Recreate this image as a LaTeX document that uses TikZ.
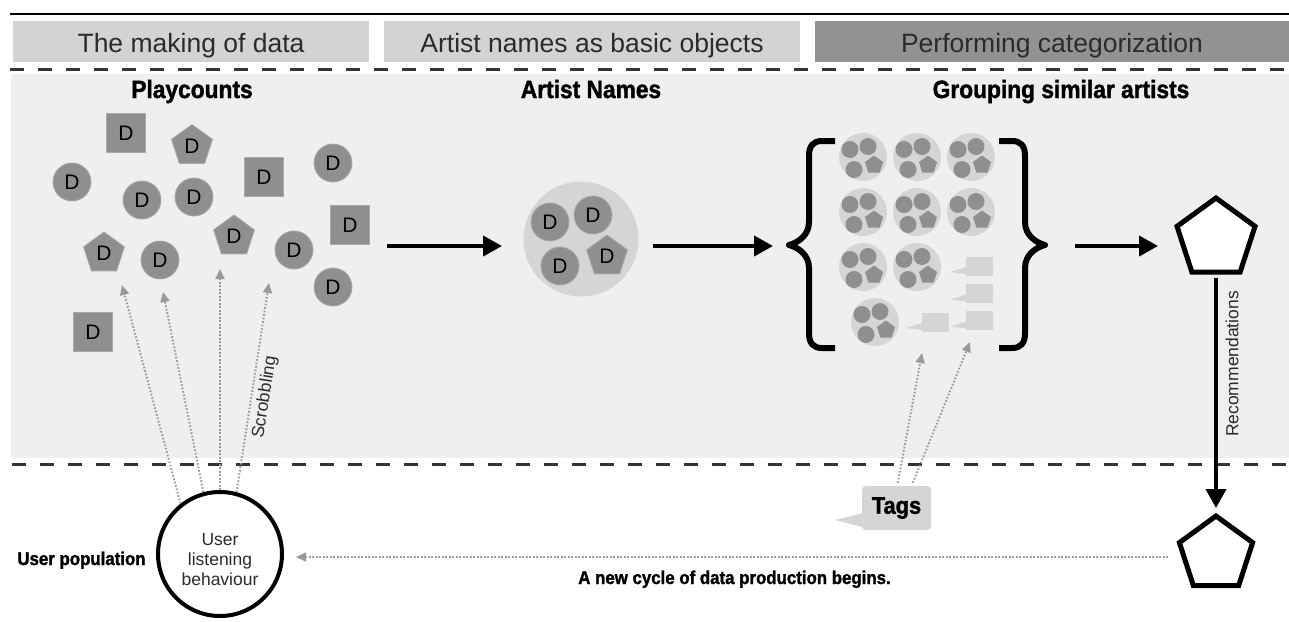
\documentclass[tikz,border=0pt]{standalone}
\usepackage{fontspec}
\setmainfont{Liberation Sans}
\newfontfamily\condfont[FakeStretch=0.91, BoldFeatures={FakeBold=1.5}]{Liberation Sans}
\usetikzlibrary{shapes.geometric,arrows.meta,calc}
\definecolor{hdrlight}{HTML}{D3D3D3}
\definecolor{hdrdark}{HTML}{929292}
\definecolor{panel}{HTML}{EFEFEF}
\definecolor{dgray}{HTML}{8F8F8F}
\definecolor{dedge}{HTML}{A8A8A8}
\definecolor{lgray}{HTML}{D5D5D5}
\definecolor{dotgray}{HTML}{9A9A9A}
\definecolor{txtdark}{HTML}{2B2B2B}
\newcommand\dfnt{\fontsize{21pt}{24pt}\selectfont}
\tikzset{
  dshape/.style={fill=dgray, draw=dedge, line width=0.8pt, inner sep=0pt, font=\dfnt, text=black},
  dcirc/.style={dshape, circle, minimum size=38pt},
  dsq/.style={dshape, rectangle, minimum size=39pt},
  dpent/.style={dshape, regular polygon, regular polygon sides=5, minimum size=43pt},
  clusterbg/.style={circle, fill=lgray, draw=none, inner sep=0pt},
  smallc/.style={circle, fill=dgray, inner sep=0pt, minimum size=17pt},
  smallp/.style={regular polygon, regular polygon sides=5, fill=dgray, inner sep=0pt, minimum size=19pt},
  hdrbox/.style={rectangle, inner sep=0pt, minimum height=41pt},
  hdrtxt/.style={anchor=base, font=\fontsize{26.5pt}{30pt}\selectfont, text=txtdark},
  ttl/.style={anchor=base, font={\condfont\bfseries\fontsize{25pt}{28pt}\selectfont}},
  lbl/.style={font={\condfont\bfseries\fontsize{18.5pt}{22pt}\selectfont}},
  thin/.style={font=\fontsize{17.5pt}{20pt}\selectfont, text=txtdark},
  bigarrow/.style={-{Triangle[length=19pt,width=20pt]}, line width=4pt, black},
  dotarrow/.style={-{Triangle[length=10pt,width=9pt]}, line width=2pt, dotgray, dash pattern=on 1.6pt off 1.9pt},
  dashline/.style={line width=3pt, draw=black!80, dash pattern=on 14pt off 14pt},
  bigpent/.style={regular polygon, regular polygon sides=5, draw=black, fill=white, line width=5pt, inner sep=0pt},
  tagbox/.style={rectangle, rounded corners=4pt, fill=lgray, inner sep=0pt},
  grp/.pic={
    \node[clusterbg, minimum size=48pt] (-bg) at (0,0) {};
    \node[smallc] (-a) at (-13,-7.5) {};
    \node[smallc] (-b) at (5,-10.5) {};
    \node[smallc] (-c) at (-9,12.5) {};
    \node[smallp] (-p) at (11,8) {};
  },
  tagicon/.pic={
    \fill[lgray] (-13,1) -- (-29,6) -- (-13,8) -- cycle;
    \node[rectangle, fill=lgray, minimum width=27pt, minimum height=19pt, inner sep=0pt] (-box) at (0,0) {};
  }
}
\begin{document}
\begin{tikzpicture}[x=1pt,y=-1pt]
\useasboundingbox (0,0) rectangle (1289,621);
% panel
\fill[panel] (11,74) rectangle (1289,458);
% top rule
\draw[line width=2.5pt] (10,14) -- (1289,14);
% header
\node[hdrbox, fill=hdrlight, minimum width=356pt] (h1) at (191,41.5) {};
\node[hdrbox, fill=hdrlight, minimum width=416pt] (h2) at (592,41.5) {};
\node[hdrbox, fill=hdrdark, minimum width=474pt] (h3) at (1052,41.5) {};
\node[hdrtxt] (h1t) at (191,52) {The making of data};
\node[hdrtxt] (h2t) at (592,52) {Artist names as basic objects};
\node[hdrtxt] (h3t) at (1052,52) {Performing categorization};
% dashed separators
\draw[dashline] (10,69) -- (1289,69);
\draw[dashline] (12,464) -- (1289,464);
% titles
\node[ttl] (t1) at (192,98) {Playcounts};
\node[ttl] (t2) at (591,98) {Artist Names};
\node[ttl] (t3) at (1061,98) {Grouping similar artists};
% playcount items
\node[dsq] (s1) at (126,133) {D};
\node[dpent] (p1) at (192,146) {D};
\node[dcirc] (c1) at (72,182) {D};
\node[dcirc] (c2) at (142,200) {D};
\node[dcirc] (c3) at (194,197) {D};
\node[dsq] (s2) at (264,177) {D};
\node[dcirc] (c4) at (333,163) {D};
\node[dsq] (s3) at (350,225) {D};
\node[dpent] (p2) at (234,236.5) {D};
\node[dpent] (p3) at (104,253.5) {D};
\node[dcirc] (c5) at (160,260) {D};
\node[dcirc] (c6) at (294,250) {D};
\node[dcirc] (c7) at (333,287) {D};
\node[dsq] (s4) at (93,332) {D};
% artist names cluster
\node[clusterbg, minimum size=115pt] (an) at (581,239) {};
\node[dcirc] (a1) at (550,222) {D};
\node[dcirc] (a2) at (593,215) {D};
\node[dcirc] (a3) at (560,266) {D};
\node[dpent] (a4) at (607,256.5) {D};
% big arrows
\coordinate (ar1s) at (387,246); \coordinate (ar1e) at (502,246);
\coordinate (ar2s) at (653,246); \coordinate (ar2e) at (773,246);
\coordinate (ar3s) at (1075,246); \coordinate (ar3e) at (1158,246);
\draw[bigarrow] (ar1s) -- (ar1e);
\draw[bigarrow] (ar2s) -- (ar2e);
\draw[bigarrow] (ar3s) -- (ar3e);
% braces
\draw[line width=6pt, line join=round, line cap=butt]
  (835,141) -- (822,141) .. controls (813,141) and (809,146) .. (809,156) -- (809,222)
  .. controls (809,236) and (797,243) .. (789,245)
  .. controls (797,247) and (809,254) .. (809,268) -- (809,333)
  .. controls (809,343) and (813,348) .. (822,348) -- (835,348);
\draw[line width=6pt, line join=round, line cap=butt]
  (999,141) -- (1012,141) .. controls (1021,141) and (1025,146) .. (1025,156) -- (1025,222)
  .. controls (1025,236) and (1037,243) .. (1045,245)
  .. controls (1037,247) and (1025,254) .. (1025,268) -- (1025,333)
  .. controls (1025,343) and (1021,348) .. (1012,348) -- (999,348);
% groups
\pic (g1) at (863,157) {grp};
\pic (g2) at (917,157) {grp};
\pic (g3) at (971,157) {grp};
\pic (g4) at (863,212) {grp};
\pic (g5) at (917,212) {grp};
\pic (g6) at (971,212) {grp};
\pic (g7) at (863,267) {grp};
\pic (g8) at (917,267) {grp};
\pic (g9) at (875,322) {grp};
% small tags
\pic (k1) at (979,266) {tagicon};
\pic (k2) at (979.5,293.5) {tagicon};
\pic (k3) at (979.5,320.5) {tagicon};
\pic (k4) at (935,322) {tagicon};
% pentagons
\node[bigpent, minimum size=82pt] (penA) at (1216,239) {};
\node[bigpent, minimum size=77pt] (penB) at (1216,554.5) {};
\coordinate (recs) at (1216,278); \coordinate (rece) at (1216,508);
\draw[bigarrow] (recs) -- (rece);
\node[thin, rotate=90] (rec) at (1232,364) {Recommendations};
% user circle
\node[circle, draw=black, line width=4pt, fill=white, minimum size=124pt, inner sep=0pt] (user) at (220,554) {};
\node[thin, align=center] (usertxt) at (220,560) {User\\listening\\behaviour};
\node[lbl, anchor=base] (upop) at (81.5,565) {User population};
% scrobbling arrows
\coordinate (sc1) at (122,285);
\coordinate (sc2) at (163,292);
\coordinate (sc3) at (220,269);
\coordinate (sc4) at (269,283);
\draw[dotarrow] (user.128) -- (sc1);
\draw[dotarrow] (user.105) -- (sc2);
\draw[dotarrow] (user.90) -- (sc3);
\draw[dotarrow] (user.75) -- (sc4);
\node[thin, rotate=81] (scrob) at (265,397) {Scrobbling};
% Tags
\fill[lgray] (863,513) -- (835,520) -- (863,527) -- cycle;
\node[tagbox, minimum width=69pt, minimum height=44pt, font={\condfont\bfseries\fontsize{24pt}{28pt}\selectfont}] (tags) at (896.5,508) {Tags};
\coordinate (tg1) at (922,353);
\coordinate (tg2) at (970,342);
\draw[dotarrow] ([xshift=36pt,yshift=3pt]tags.north west) -- (tg1);
\draw[dotarrow] ([xshift=51pt,yshift=3pt]tags.north west) -- (tg2);
% new cycle
\coordinate (cycs) at (1168,557);
\draw[dotarrow, shorten >=12pt] (cycs) -- (cycs -| user.east);
\node[lbl, anchor=base] (cyc) at (734.5,584) {A new cycle of data production begins.};
\end{tikzpicture}
\end{document}
